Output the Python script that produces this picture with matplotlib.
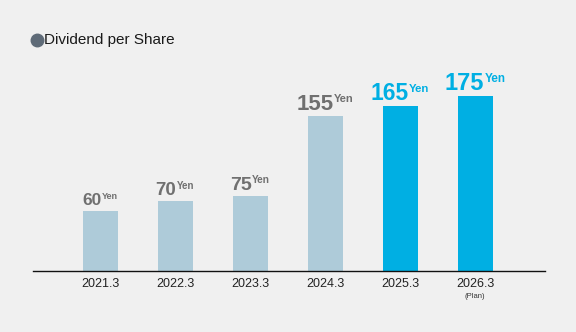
import matplotlib
matplotlib.use("Agg")
import matplotlib.pyplot as plt
from matplotlib.lines import Line2D

# Dividend per share by fiscal year (yen)
years = ["2021.3", "2022.3", "2023.3", "2024.3", "2025.3", "2026.3"]
dividends = [60, 70, 75, 155, 165, 175]
is_recent = [False, False, False, False, True, True]
num_sizes = [12.5, 13.5, 14, 16, 16.5, 17]
yen_sizes = [6.5, 7, 7.2, 8, 8.2, 8.5]

BG = "#f0f0f0"
PALE = "#aecbd9"
BLUE = "#00afe3"
GRAY_TXT = "#707070"

plt.rcParams["font.family"] = ["Liberation Sans", "DejaVu Sans"]

W, H, DPI = 576, 332, 100
fig = plt.figure(figsize=(W / DPI, H / DPI), dpi=DPI, facecolor=BG)

# axes placed in pixel terms: baseline at y=271, spanning x 33..545
left_px, right_px, base_px, top_px = 33, 545, 271, 40
ax = fig.add_axes([left_px / W, (H - base_px) / H,
                   (right_px - left_px) / W, (base_px - top_px) / H])
ax.set_facecolor(BG)

step = 75.0
xmin = -(100 - left_px) / step
ax.set_xlim(xmin, xmin + (right_px - left_px) / step)
ax.set_ylim(0, base_px - top_px)

x = list(range(len(years)))
colors = [BLUE if r else PALE for r in is_recent]
ax.bar(x, dividends, width=35 / step, color=colors, zorder=2)

for s in ["top", "right", "left"]:
    ax.spines[s].set_visible(False)
ax.spines["bottom"].set_color("#111111")
ax.spines["bottom"].set_linewidth(1.0)
ax.set_yticks([])
ax.set_xticks(x)
ax.set_xticklabels(years, fontsize=9, color="#222222")
ax.tick_params(axis="x", length=0, pad=5)

ax.annotate("(Plan)", xy=(x[-1], 0), xytext=(0, -18.7), textcoords="offset points",
            ha="center", va="center", fontsize=5.5, color="#333333")

# value labels: big number plus small superscript "Yen"
LIFT = 4.3
labels = []
for i, v in enumerate(dividends):
    c = BLUE if is_recent[i] else GRAY_TXT
    ns, ys = num_sizes[i], yen_sizes[i]
    t_num = ax.annotate(str(v), xy=(i, v), xytext=(0, LIFT), textcoords="offset points",
                        ha="left", va="baseline", fontsize=ns, fontweight="bold", color=c)
    t_yen = ax.annotate("Yen", xy=(i, v), xytext=(0, LIFT + 0.72 * (ns - ys)),
                        textcoords="offset points", ha="left", va="baseline",
                        fontsize=ys, fontweight="bold", color=c)
    labels.append((t_num, t_yen, ns, ys))

fig.canvas.draw()
r = fig.canvas.get_renderer()
pt = 72.0 / DPI
for t_num, t_yen, ns, ys in labels:
    wn = t_num.get_window_extent(r).width
    wy = t_yen.get_window_extent(r).width
    gap = 0.5
    total = wn + gap + wy
    t_num.set_position((-total / 2 * pt, LIFT))
    t_yen.set_position(((-total / 2 + wn + gap) * pt, LIFT + 0.72 * (ns - ys)))

# legend-style heading
fig.add_artist(Line2D([37 / W], [(H - 40) / H], transform=fig.transFigure,
                      marker="o", markersize=9, color="#5f6b78", linestyle="none"))
fig.text(44.5 / W, (H - 40) / H, "Dividend per Share", fontsize=11, color="#1a1a1a",
         ha="left", va="center")

fig.savefig("out.png", dpi=DPI, facecolor=BG)
